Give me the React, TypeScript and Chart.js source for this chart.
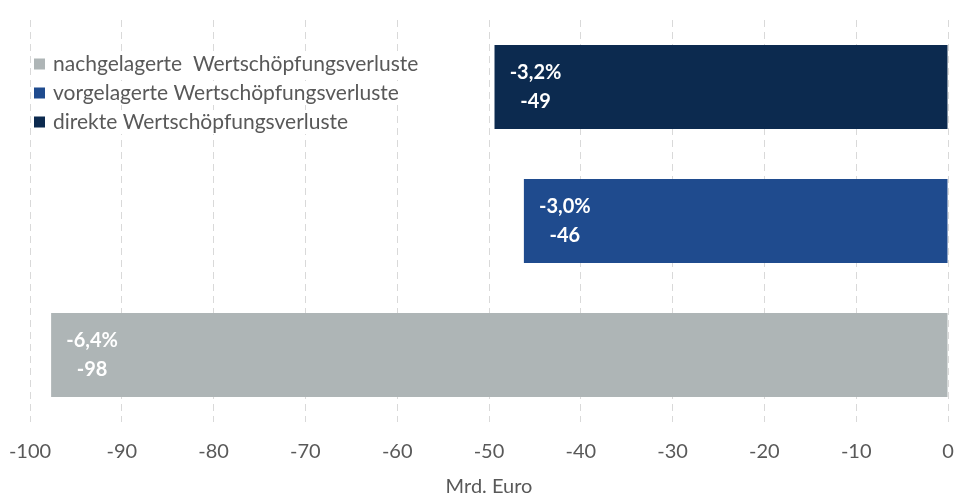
import React, { useEffect, useRef } from 'react';
import { Chart, registerables } from 'chart.js';

Chart.register(...registerables);

const categories = [
  'direkte Wertschöpfungsverluste',
  'vorgelagerte Wertschöpfungsverluste',
  'nachgelagerte  Wertschöpfungsverluste',
];
const values = [-49.4, -46.2, -97.7];
const percentLabels = ['-3,2%', '-3,0%', '-6,4%'];
const amountLabels = ['-49', '-46', '-98'];
const colors = ['#0c2a4f', '#1f4b8e', '#aeb5b6'];
const legendOrder = [2, 1, 0];
const axisTitle = 'Mrd. Euro';
const xMin = -100;
const xMax = 0;
const xStep = 10;

const FONT = 'Lato, "Open Sans", sans-serif';
const TEXT_COLOR = '#595959';

const barLabelPlugin = {
  id: 'barLabels',
  afterDatasetsDraw(chart: any) {
    const ctx = chart.ctx;
    ctx.save();
    ctx.fillStyle = '#ffffff';
    ctx.font = `bold 20px ${FONT}`;
    ctx.textAlign = 'center';
    ctx.textBaseline = 'middle';
    chart.data.datasets.forEach((_ds: any, i: number) => {
      const meta = chart.getDatasetMeta(i);
      const el = meta.data[i];
      if (!el) return;
      const x = el.x + 41;
      ctx.fillText(percentLabels[i], x, el.y - 14);
      ctx.fillText(amountLabels[i], x, el.y + 15);
    });
    ctx.restore();
  },
};

const legendPlugin = {
  id: 'insideLegend',
  afterDraw(chart: any) {
    const ctx = chart.ctx;
    const area = chart.chartArea;
    ctx.save();
    ctx.font = `21px ${FONT}`;
    ctx.textBaseline = 'middle';
    ctx.textAlign = 'left';
    legendOrder.forEach((idx, k) => {
      const y = area.top + 44 + k * 29;
      const label = categories[idx];
      const w = ctx.measureText(label).width;
      ctx.fillStyle = '#ffffff';
      ctx.fillRect(33, y - 12, 22 + w, 24);
      ctx.fillStyle = colors[idx];
      ctx.fillRect(34, y - 5.5, 11, 11);
      ctx.fillStyle = TEXT_COLOR;
      ctx.fillText(label, 53, y);
    });
    ctx.font = `20px ${FONT}`;
    ctx.textAlign = 'center';
    ctx.fillText(axisTitle, (area.left + area.right) / 2, area.bottom + 65);
    ctx.restore();
  },
};

export default function App() {
  const ref = useRef<HTMLCanvasElement | null>(null);
  useEffect(() => {
    if (!ref.current) return;
    const chart = new Chart(ref.current, {
      type: 'bar',
      data: {
        labels: categories,
        datasets: categories.map((c, i) => ({
          label: c,
          data: values.map((v, j) => (j === i ? v : null)),
          backgroundColor: colors[i],
          borderWidth: 0,
          grouped: false,
          barPercentage: 0.627,
          categoryPercentage: 1,
        })),
      },
      options: {
        indexAxis: 'y',
        animation: false,
        responsive: false,
        layout: { padding: { left: 30, right: 7, top: 20, bottom: 30 } },
        plugins: {
          legend: { display: false },
          tooltip: { enabled: false },
        },
        scales: {
          x: {
            type: 'linear',
            min: xMin,
            max: xMax,
            ticks: {
              stepSize: xStep,
              color: TEXT_COLOR,
              font: { family: FONT, size: 20 },
              padding: 18,
              maxRotation: 0,
            },
            grid: { color: '#d9d9d9', lineWidth: 1, drawTicks: false },
            border: { display: false, dash: [7, 5] },
            title: { display: false },
            afterFit(scale: any) {
              scale.height = 43;
              scale.paddingLeft = 0;
              scale.paddingRight = 0;
              scale.paddingTop = 0;
              scale.paddingBottom = 0;
            },
          },
          y: {
            type: 'category',
            display: false,
            offset: true,
            grid: { display: false },
          },
        },
      },
      plugins: [barLabelPlugin, legendPlugin],
    });
    return () => chart.destroy();
  }, []);
  return (
    <div style={{ position: 'fixed', left: 0, top: 0, width: 955, height: 495, background: '#fff' }}>
      <canvas ref={ref} width={955} height={495} />
    </div>
  );
}
